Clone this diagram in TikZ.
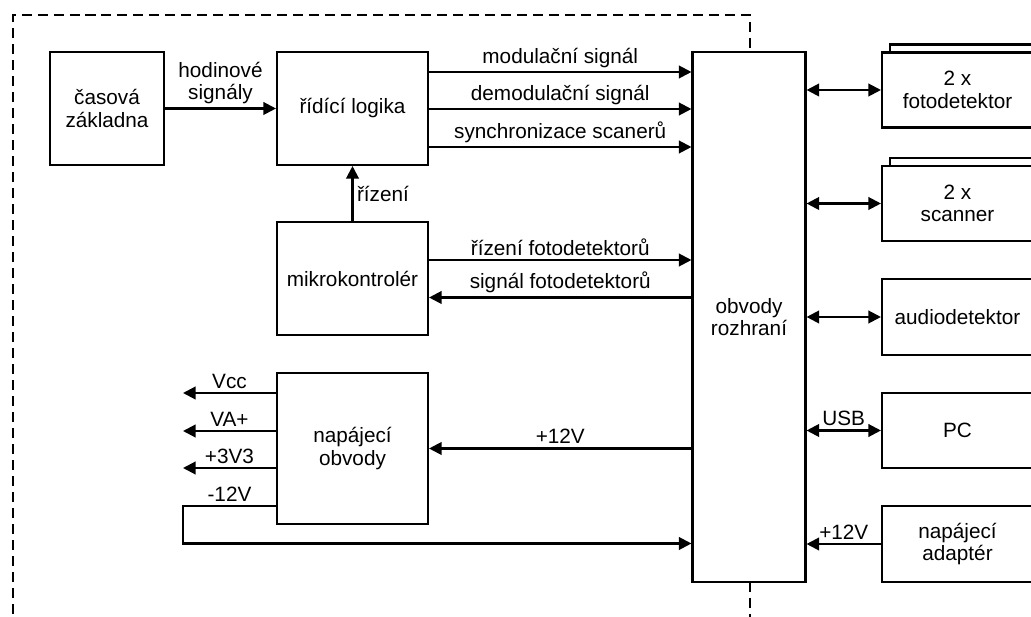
\documentclass[tikz,border=0pt]{standalone}
\usepackage{fontspec}
\setmainfont{Liberation Sans}
\usetikzlibrary{arrows.meta}

\tikzset{
  blok/.style={draw, fill=white, line width=1.2pt, align=center, inner sep=2pt},
  sipka/.style={line width=1.2pt, -{Triangle[length=0.25cm,width=0.25cm]}},
  obesipka/.style={line width=1.2pt, {Triangle[length=0.25cm,width=0.25cm]}-{Triangle[length=0.25cm,width=0.25cm]}},
  hranice/.style={line width=1.1pt, dash pattern=on 5.7pt off 3.4pt},
  popis/.style={align=center, inner sep=2pt}
}

\begin{document}
\begin{tikzpicture}[x=0.02cm,y=-0.02cm,font=\fontsize{11.8}{12.7}\selectfont]
\useasboundingbox (0,0) rectangle (1031,617);

% hranice desky
\draw[hranice] (13,630) -- (13,15) -- (750,15) -- (750,630);

% bloky na desce
\node[blok, minimum width=2.28cm, minimum height=2.26cm] (cas) at (107,108.5) {časová\\základna};
\node[blok, minimum width=3.02cm, minimum height=2.26cm] (logika) at (352.5,108.5) {řídící logika};
\node[blok, minimum width=3.02cm, minimum height=2.26cm] (mikro) at (352.5,278.5) {mikrokontrolér};
\node[blok, minimum width=3.02cm, minimum height=3.02cm] (napaj) at (352.5,448.5) {napájecí\\obvody};
\node[blok, minimum width=2.26cm, minimum height=10.6cm] (rozhr) at (749,317) {obvody\\rozhraní};

% vnejsi bloky
\draw[line width=1.2pt, fill=white] (890,44.5) rectangle (1041,119.5);
\node[blok, minimum width=3.02cm, minimum height=1.5cm] (foto) at (957.5,90) {2 x\\fotodetektor};
\draw[line width=1.2pt, fill=white] (890,158) rectangle (1041,233);
\node[blok, minimum width=3.02cm, minimum height=1.5cm] (scan) at (957.5,203.5) {2 x\\scanner};
\node[blok, minimum width=3.02cm, minimum height=1.52cm] (audio) at (957.5,317) {audiodetektor};
\node[blok, minimum width=3.02cm, minimum height=1.5cm] (pc) at (957.5,430.5) {PC};
\node[blok, minimum width=3.02cm, minimum height=1.52cm] (adapter) at (957.5,544) {napájecí\\adaptér};

% signaly
\draw[sipka] (cas) -- (logika) node[popis, midway, above] {hodinové\\signály};
\draw[sipka] (mikro) -- (logika) node[popis, midway, right] {řízení};
\draw[sipka] (logika.east |- 0,72) -- (rozhr.west |- 0,72) node[popis, midway, above] {modulační signál};
\draw[sipka] (logika.east |- 0,109) -- (rozhr.west |- 0,109) node[popis, midway, above] {demodulační signál};
\draw[sipka] (logika.east |- 0,147) -- (rozhr.west |- 0,147) node[popis, midway, above] {synchronizace scanerů};
\draw[sipka] (mikro.east |- 0,260) -- (rozhr.west |- 0,260) node[popis, midway, above] {řízení fotodetektorů};
\draw[sipka] (rozhr.west |- 0,297.5) -- (mikro.east |- 0,297.5) node[popis, midway, above] {signál fotodetektorů};

% napajeni
\draw[sipka] (rozhr.west |- napaj) -- (napaj) node[popis, midway, above] {+12V};
\coordinate (vcc) at (183,393);
\coordinate (va) at (183,431);
\coordinate (v33) at (183,468);
\coordinate (m12a) at (183,506);
\coordinate (m12b) at (183,543.5);
\draw[sipka] (napaj.west |- vcc) -- (vcc) node[popis, midway, above] {Vcc};
\draw[sipka] (napaj.west |- va) -- (va) node[popis, midway, above] {VA+};
\draw[sipka] (napaj.west |- v33) -- (v33) node[popis, midway, above] {+3V3};
\draw[sipka] (napaj.west |- m12a) -- (m12a) node[popis, midway, above] {-12V} -- (m12b) -- (rozhr.west |- m12b);

% rozhrani ven
\draw[obesipka] (rozhr.east |- foto) -- (foto);
\draw[obesipka] (rozhr.east |- scan) -- (scan);
\draw[obesipka] (rozhr.east |- audio) -- (audio);
\draw[obesipka] (rozhr.east |- pc) -- (pc) node[popis, midway, above] {USB};
\draw[sipka] (adapter) -- (rozhr.east |- adapter) node[popis, midway, above] {+12V};
\end{tikzpicture}
\end{document}
